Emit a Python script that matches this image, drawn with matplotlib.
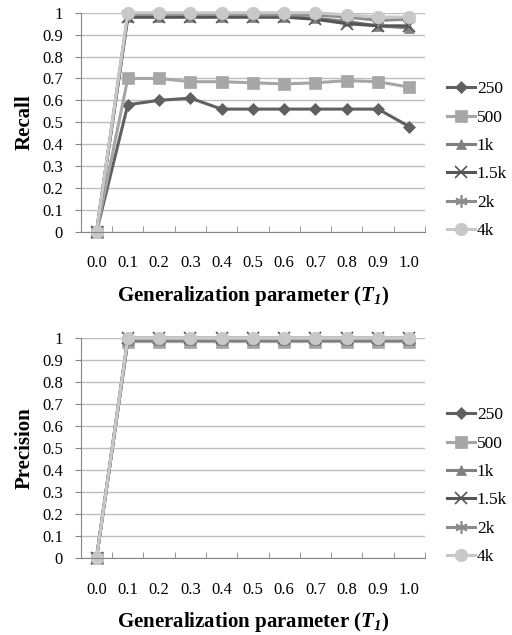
import numpy as np
import matplotlib.pyplot as plt
from matplotlib.ticker import FixedLocator

plt.rcParams['font.family'] = ['Liberation Serif', 'DejaVu Serif']
plt.rcParams['mathtext.fontset'] = 'custom'
plt.rcParams['mathtext.it'] = 'Liberation Serif:italic:bold'
plt.rcParams['mathtext.rm'] = 'Liberation Serif:italic:bold'

x_labels = ["0.0", "0.1", "0.2", "0.3", "0.4", "0.5", "0.6", "0.7", "0.8", "0.9", "1.0"]
series_names = ["250", "500", "1k", "1.5k", "2k", "4k"]

recall_250 = [0, 0.58, 0.60, 0.61, 0.56, 0.56, 0.56, 0.56, 0.56, 0.56, 0.48]
recall_500 = [0, 0.70, 0.70, 0.685, 0.685, 0.68, 0.675, 0.68, 0.69, 0.685, 0.66]
recall_1k = [0, 0.98, 0.98, 0.98, 0.98, 0.98, 0.98, 0.975, 0.96, 0.94, 0.93]
recall_15k = [0, 0.98, 0.98, 0.98, 0.98, 0.98, 0.98, 0.97, 0.95, 0.94, 0.94]
recall_2k = [0, 0.995, 0.995, 0.995, 0.995, 0.99, 0.99, 0.99, 0.98, 0.965, 0.97]
recall_4k = [0, 1.0, 1.0, 1.0, 1.0, 1.0, 1.0, 1.0, 0.99, 0.98, 0.98]

prec_250 = [0, 0.99, 0.99, 0.99, 0.99, 0.99, 0.99, 0.99, 0.99, 0.99, 0.99]
prec_500 = [0, 0.985, 0.985, 0.985, 0.985, 0.985, 0.985, 0.985, 0.985, 0.985, 0.985]
prec_1k = [0, 0.99, 0.99, 0.99, 0.99, 0.99, 0.99, 0.99, 0.99, 0.99, 0.99]
prec_15k = [0, 1.0, 1.0, 1.0, 1.0, 1.0, 1.0, 1.0, 1.0, 1.0, 1.0]
prec_2k = [0, 1.0, 1.0, 1.0, 1.0, 1.0, 1.0, 1.0, 1.0, 1.0, 1.0]
prec_4k = [0, 1.0, 1.0, 1.0, 1.0, 1.0, 1.0, 1.0, 1.0, 1.0, 1.0]

recall = [recall_250, recall_500, recall_1k, recall_15k, recall_2k, recall_4k]
precision = [prec_250, prec_500, prec_1k, prec_15k, prec_2k, prec_4k]

colors = ['#606060', '#a6a6a6', '#808080', '#555555', '#8c8c8c', '#c8c8c8']
markers = ['D', 's', '^', 'x', (6, 2, 0), 'o']
msizes = [6, 8, 7, 8, 9, 9]

fig = plt.figure(figsize=(5.12, 6.35), dpi=100)
ax1 = fig.add_axes([0.158, 0.635, 0.672, 0.345])
ax2 = fig.add_axes([0.158, 0.1213, 0.672, 0.346])

x = np.arange(len(x_labels))


def draw(ax, data, ylabel):
    for i, vals in enumerate(data):
        thin = markers[i] in ('x',) or isinstance(markers[i], tuple)
        ax.plot(x, vals, color=colors[i], marker=markers[i], markersize=msizes[i],
                linewidth=2.2, label=series_names[i], clip_on=False,
                markeredgewidth=1.2 if thin else 0.5,
                markeredgecolor=colors[i])
    ax.set_ylim(0, 1)
    ax.set_xlim(-0.5, len(x_labels) - 0.5)
    ax.set_yticks(np.arange(0, 1.01, 0.1))
    ax.set_yticklabels(["0", "0.1", "0.2", "0.3", "0.4", "0.5", "0.6", "0.7", "0.8", "0.9", "1"])
    ax.set_xticks(x)
    ax.set_xticklabels(x_labels)
    ax.xaxis.set_minor_locator(FixedLocator(np.arange(-0.5, len(x_labels), 1.0)))
    ax.tick_params(axis='x', which='major', length=0, pad=17, labelsize=12)
    ax.tick_params(axis='x', which='minor', length=4, color='#868686', direction='in')
    ax.tick_params(axis='y', length=4, color='#868686', labelsize=12, pad=9)
    ax.grid(axis='y', color='#bebebe', linewidth=1)
    ax.set_axisbelow(True)
    for s in ['top', 'right']:
        ax.spines[s].set_visible(False)
    for s in ['left', 'bottom']:
        ax.spines[s].set_color('#868686')
    ax.set_ylabel(ylabel, fontsize=15, fontweight='bold', labelpad=5)
    ax.set_xlabel('Generalization parameter ($\\mathit{T_1}$)', fontsize=15,
                  fontweight='bold', labelpad=9)
    ax.legend(loc='center left', bbox_to_anchor=(1.045, 0.327), frameon=False,
              fontsize=12.5, handlelength=1.6, handletextpad=0.1, labelspacing=0.7,
              borderaxespad=0.0)


draw(ax1, recall, 'Recall')
draw(ax2, precision, 'Precision')

fig.savefig('out.png', dpi=100)
